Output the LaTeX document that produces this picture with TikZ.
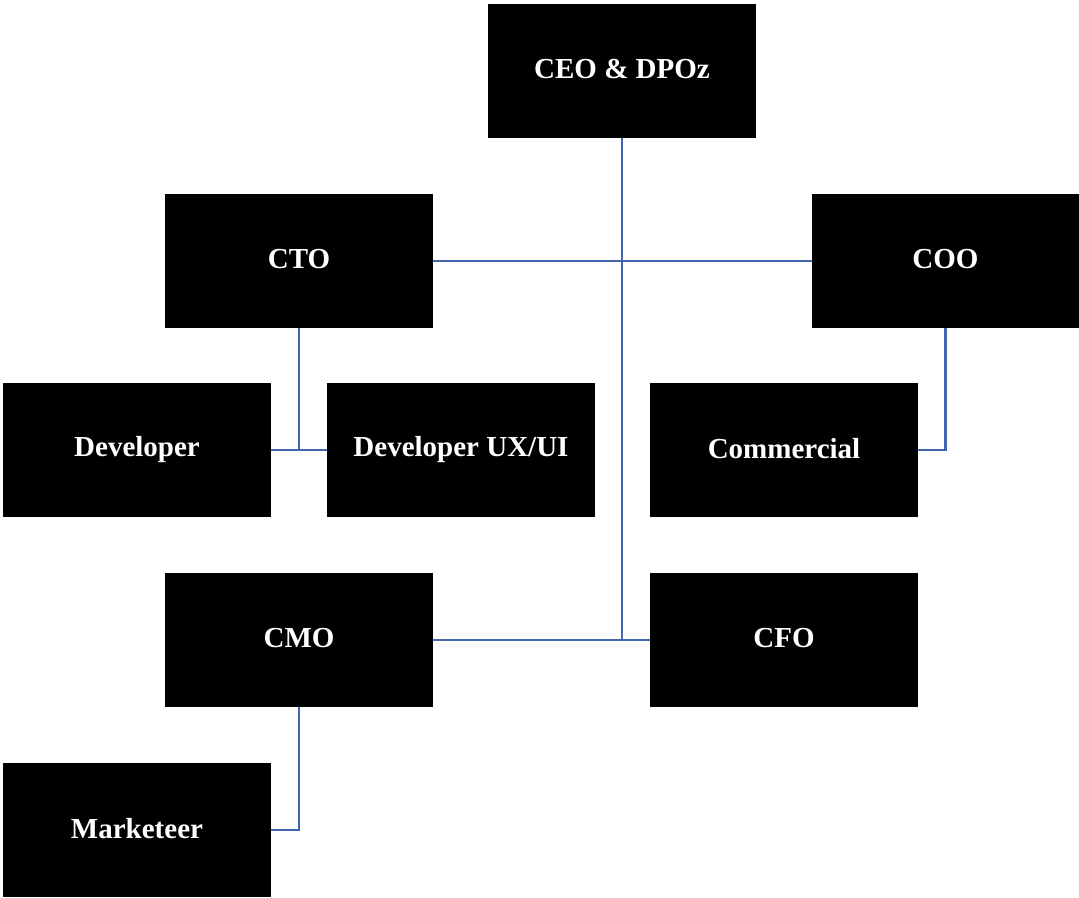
\documentclass[tikz,border=0pt]{standalone}
\usepackage{fontspec}
\setmainfont{Liberation Serif}
\definecolor{linkblue}{RGB}{66,102,176}
\begin{document}
\begin{tikzpicture}[x=1pt,y=-1pt,
  box/.style={fill=black,draw=none,minimum width=268pt,minimum height=134pt,inner sep=0pt,
    text=white,font=\fontsize{29}{34}\selectfont\bfseries},
  link/.style={draw=linkblue,line width=2.8pt}]
\useasboundingbox (0,0) rectangle (1079,897);
\node[box] (ceo) at (622,71) {\raisebox{4pt}{CEO \& DPOz}};
\node[box] (cto) at (299,261) {\raisebox{4pt}{CTO}};
\node[box,minimum width=267pt] (coo) at (945.5,261) {\raisebox{4pt}{COO}};
\node[box] (dev) at (137,450) {\raisebox{4pt}{Developer}};
\node[box] (ux) at (461,450) {\raisebox{4pt}{Developer UX/UI}};
\node[box] (com) at (784,450) {\raisebox{4pt}{Commercial}};
\node[box] (cmo) at (299,640) {\raisebox{4pt}{CMO}};
\node[box] (cfo) at (784,640) {\raisebox{4pt}{CFO}};
\node[box] (mkt) at (137,830) {\raisebox{4pt}{Marketeer}};
\coordinate (hub) at (ceo.south |- cfo.west);
\draw[link] (ceo.south) -- (hub);
\draw[link] (cto.east) -- (coo.west);
\draw[link] (cmo.east) -- (cfo.west);
\draw[link] (dev.east) -- (ux.west);
\draw[link] (cto.south) -- (cto.south |- dev.east);
\draw[link] (coo.south) |- (com.east);
\draw[link] (cmo.south) |- (mkt.east);
\end{tikzpicture}
\end{document}
